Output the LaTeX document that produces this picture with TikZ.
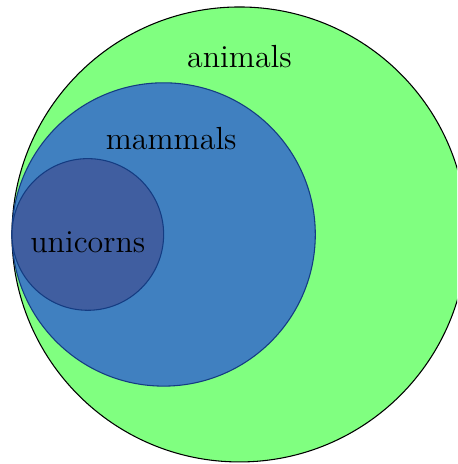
\documentclass[tikz,border=0pt]{standalone}
\usepackage{tikz}
\usetikzlibrary{positioning}
\definecolor{animalcolor}{RGB}{128,255,128}
\definecolor{mammalcolor}{RGB}{64,128,192}
\definecolor{unicorncolor}{RGB}{64,94,160}
\definecolor{setborder}{RGB}{20,60,130}

\begin{document}
\begin{tikzpicture}[
    set/.style={circle, inner sep=0pt},
    setlabel/.style={font=\large}
]
    \useasboundingbox[clip] (-3.158,-3.027) rectangle (2.869,3.092);

    % nested sets
    \node[set, draw=black, fill=animalcolor, minimum size=6cm] (animals) at (0,0) {};
    \node[set, draw=setborder, fill=mammalcolor, minimum size=4cm] (mammals) at (-1,0) {};
    \node[set, draw=setborder, fill=unicorncolor, minimum size=2cm] (unicorns) at (-2,0) {};

    % labels
    \node[setlabel] (animalslabel) at (0,2.34) {animals};
    \node[setlabel] (mammalslabel) at (-0.9,1.26) {mammals};
    \node[setlabel] (unicornslabel) at (-2,-0.1) {unicorns};
\end{tikzpicture}
\end{document}
